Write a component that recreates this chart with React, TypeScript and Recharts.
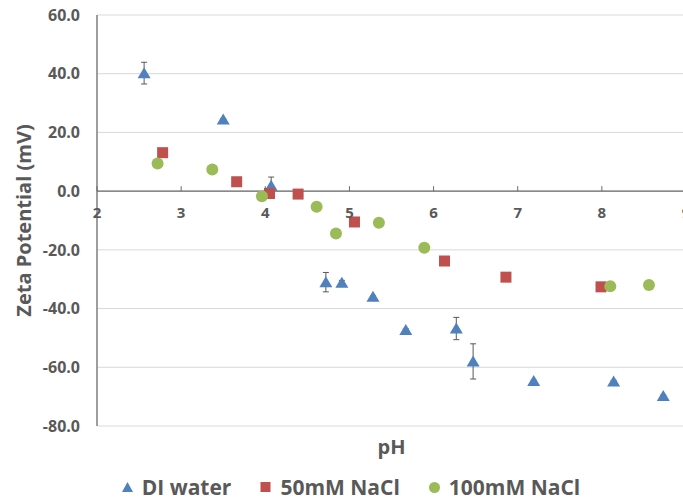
import React from 'react'
import {
  ScatterChart, Scatter, XAxis, YAxis, CartesianGrid,
  ReferenceLine, ErrorBar, Legend
} from 'recharts'

// DI water
const diPH = [2.56, 3.50, 4.07, 4.72, 4.91, 5.28, 5.67, 6.27, 6.47, 7.19, 8.14, 8.73]
const diZeta = [40.2, 24.4, 1.8, -31.0, -31.2, -36.0, -47.3, -46.8, -58.0, -64.7, -64.8, -69.8]
const diErr = [3.7, 0.3, 3.0, 3.3, 0.8, 0.3, 0.4, 3.8, 6.0, 0.3, 0.3, 0.3]

// 50mM NaCl
const naCl50PH = [2.78, 3.66, 4.05, 4.39, 5.06, 6.13, 6.86, 7.99]
const naCl50Zeta = [13.1, 3.2, -0.8, -1.0, -10.5, -23.8, -29.3, -32.6]
const naCl50Err = [0.3, 0.3, 0.3, 0.3, 1.5, 1.0, 0.3, 1.5]

// 100mM NaCl
const naCl100PH = [2.72, 3.37, 3.96, 4.61, 4.84, 5.35, 5.89, 8.10, 8.56]
const naCl100Zeta = [9.4, 7.4, -1.7, -5.3, -14.4, -10.8, -19.3, -32.4, -32.0]
const naCl100Err = [0.3, 1.0, 0.3, 0.3, 0.3, 0.3, 0.3, 0.3, 0.3]

const phTicks = [2, 3, 4, 5, 6, 7, 8, 9]
const zetaTicks = [-80, -60, -40, -20, 0, 20, 40, 60]

const toRows = (ph: number[], zeta: number[], err: number[]) =>
  ph.map((v, i) => ({ ph: v, zeta: zeta[i], err: err[i] }))

const BLUE = '#4F81BD'
const RED = '#C0504D'
const GREEN = '#9BBB59'
const TEXT = '#595959'
const AXIS = '#6b6b6b'
const FONT = '"Open Sans", sans-serif'

const W = 700
const H = 500
const TOP = 15
const LEGEND_H = 32
const XAXIS_H = 42
const PLOT_H = H - TOP - LEGEND_H - XAXIS_H
const Y_MIN = -80
const Y_MAX = 60
// pixel row of the zero line, where the pH labels sit
const Y0 = TOP + PLOT_H * (Y_MAX / (Y_MAX - Y_MIN))

const Triangle = (p: any) => (
  <polygon points={`${p.cx},${p.cy - 6} ${p.cx + 6.5},${p.cy + 5} ${p.cx - 6.5},${p.cy + 5}`} fill={BLUE} />
)
const Square = (p: any) => <rect x={p.cx - 5.5} y={p.cy - 5.5} width={11} height={11} fill={RED} />
const Dot = (p: any) => <circle cx={p.cx} cy={p.cy} r={6} fill={GREEN} />

const PhTick = (p: any) => (
  <g>
    <line x1={p.x} x2={p.x} y1={Y0 - 5} y2={Y0} stroke={AXIS} strokeWidth={1} />
    <text x={p.x} y={Y0 + 27} textAnchor="middle" fill={TEXT} fontSize={15} fontWeight="bold" fontFamily={FONT}>
      {p.payload.value}
    </text>
  </g>
)

const YLabel = (p: any) => {
  const vb = p.viewBox
  const cx = 31
  const cy = vb.y + vb.height / 2
  return (
    <text x={cx} y={cy} transform={`rotate(-90 ${cx} ${cy})`} textAnchor="middle"
      fill={TEXT} fontSize={20} fontWeight="bold" fontFamily={FONT}>
      Zeta Potential (mV)
    </text>
  )
}

const legendItems = [
  { name: 'DI water', icon: <polygon points="5.5,0 11,10 0,10" fill={BLUE} /> },
  { name: '50mM NaCl', icon: <rect x={0.5} y={0} width={10} height={10} fill={RED} /> },
  { name: '100mM NaCl', icon: <circle cx={5.5} cy={5.5} r={5.5} fill={GREEN} /> },
]

const renderLegend = () => (
  <div style={{
    display: 'flex', justifyContent: 'center', alignItems: 'center', gap: 29,
    height: LEGEND_H, paddingTop: 6, paddingLeft: 16, boxSizing: 'border-box',
    fontFamily: FONT, fontWeight: 'bold', fontSize: 21, color: TEXT,
  }}>
    {legendItems.map(it => (
      <div key={it.name} style={{ display: 'flex', alignItems: 'center' }}>
        <svg width={11} height={11} style={{ marginRight: 9 }}>{it.icon}</svg>
        <span>{it.name}</span>
      </div>
    ))}
  </div>
)

export default function App() {
  return (
    <div style={{ position: 'fixed', left: 0, top: 0, width: 683, height: 500, overflow: 'hidden', background: '#fff' }}>
      <ScatterChart width={W} height={H} margin={{ top: TOP, right: 14, bottom: 0, left: 0 }}>
        <CartesianGrid vertical={false} stroke="#d9d9d9" />
        <XAxis type="number" dataKey="ph" domain={[2, 9]} ticks={phTicks} height={XAXIS_H}
          axisLine={false} tickLine={false} tick={<PhTick />} interval={0}
          label={{ value: 'pH', position: 'insideTop', offset: 14, fill: TEXT, fontSize: 20, fontWeight: 'bold', fontFamily: FONT }} />
        <YAxis type="number" dataKey="zeta" domain={[Y_MIN, Y_MAX]} ticks={zetaTicks} width={97}
          axisLine={{ stroke: AXIS, strokeWidth: 1.3 }} tickLine={false} tickMargin={11} interval={0}
          tickFormatter={(v: number) => v.toFixed(1)}
          tick={{ fill: TEXT, fontSize: 16, fontWeight: 'bold', fontFamily: FONT }}
          label={<YLabel />} />
        <ReferenceLine y={0} stroke={AXIS} strokeWidth={1.3} />
        <Legend verticalAlign="bottom" height={LEGEND_H} content={renderLegend} />
        <Scatter name="DI water" data={toRows(diPH, diZeta, diErr)} shape={<Triangle />} isAnimationActive={false}>
          <ErrorBar dataKey="err" direction="y" width={3} stroke={TEXT} strokeWidth={1} isAnimationActive={false} />
        </Scatter>
        <Scatter name="50mM NaCl" data={toRows(naCl50PH, naCl50Zeta, naCl50Err)} shape={<Square />} isAnimationActive={false}>
          <ErrorBar dataKey="err" direction="y" width={3} stroke={TEXT} strokeWidth={1} isAnimationActive={false} />
        </Scatter>
        <Scatter name="100mM NaCl" data={toRows(naCl100PH, naCl100Zeta, naCl100Err)} shape={<Dot />} isAnimationActive={false}>
          <ErrorBar dataKey="err" direction="y" width={3} stroke={TEXT} strokeWidth={1} isAnimationActive={false} />
        </Scatter>
      </ScatterChart>
    </div>
  )
}
